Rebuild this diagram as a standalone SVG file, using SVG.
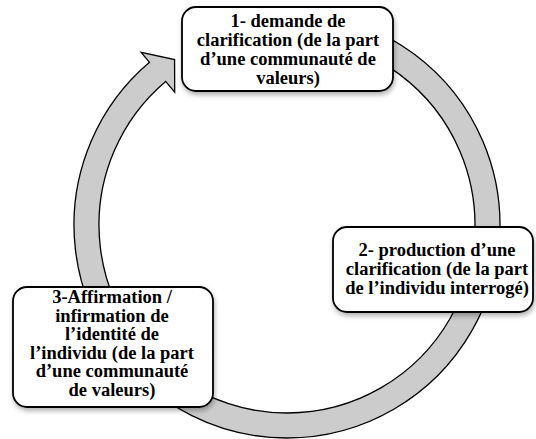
<svg xmlns="http://www.w3.org/2000/svg" width="536" height="439" viewBox="0 0 536 439">
<defs>
<filter id="sh" x="-10%" y="-10%" width="120%" height="130%">
<feDropShadow dx="1" dy="3" stdDeviation="2.5" flood-color="#000" flood-opacity="0.3"/>
</filter>
<style>
.box{fill:#fff;stroke:#000;stroke-width:1.8;filter:url(#sh)}
.ring{fill:#cccccc;stroke:#000;stroke-width:1.3;stroke-linejoin:miter}
.t{font-family:"Liberation Serif","Times New Roman",serif;font-weight:bold;font-size:18.5px;fill:#000;text-anchor:middle}
</style>
</defs>
<rect width="536" height="439" fill="#fff"/>
<g id="connectors">
<path class="ring" d="M214.15,24.85 A213,213 0 1 1 149.52,62.31 L141.13,52.38 L174.58,59.58 L174.69,92.10 L165.65,81.41 A188,188 0 1 0 222.70,48.34 Z"/>
</g>
<g id="node1">
<rect class="box" x="182" y="7" width="211" height="84" rx="14"/>
<text class="t" x="288" y="26.5">1- demande de</text>
<text class="t" x="288" y="45.7">clarification (de la part</text>
<text class="t" x="288" y="64.9">d’une communauté de</text>
<text class="t" x="288" y="84">valeurs)</text>
</g>
<g id="node2">
<rect class="box" x="333" y="227" width="200" height="85" rx="14"/>
<text class="t" x="437" y="256">2- production d’une</text>
<text class="t" x="437" y="275">clarification (de la part</text>
<text class="t" x="437" y="294">de l’individu interrogé)</text>
</g>
<g id="node3">
<rect class="box" x="13" y="287" width="200" height="120" rx="14"/>
<text class="t" x="112" y="303.3">3-Affirmation /</text>
<text class="t" x="112" y="321.8">infirmation de</text>
<text class="t" x="112" y="340.3">l’identité de</text>
<text class="t" x="112" y="358.8">l’individu (de la part</text>
<text class="t" x="112" y="377.3">d’une communauté</text>
<text class="t" x="112" y="395.8">de valeurs)</text>
</g>
</svg>
